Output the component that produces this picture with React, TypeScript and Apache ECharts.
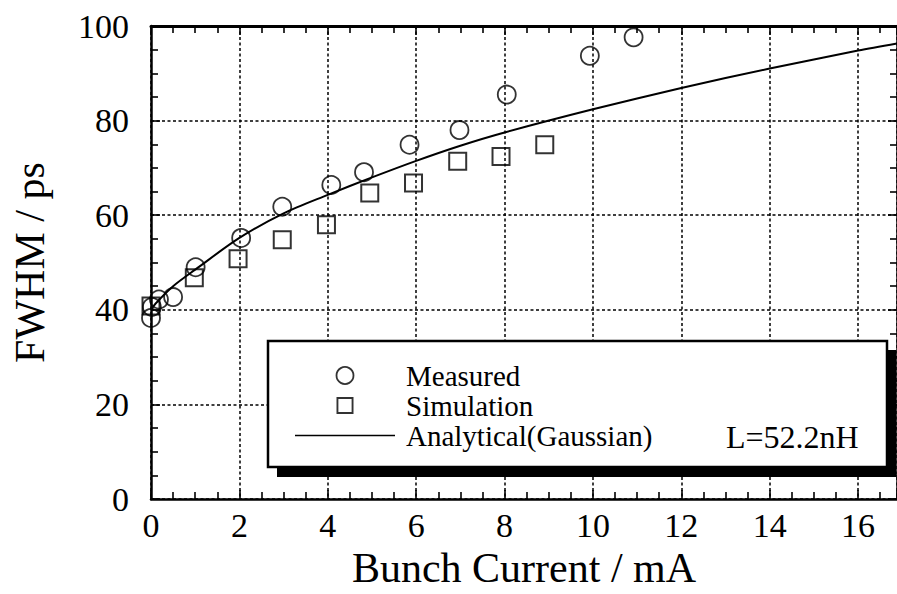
import React, { useEffect, useRef } from "react";
import * as echarts from "echarts";

// Bunch length (FWHM) versus bunch current
const measured: [number, number][] = [
  [0.0, 38.3], [0.02, 40.6], [0.18, 42.2], [0.5, 42.7], [1.01, 49.0],
  [2.04, 55.2], [2.97, 61.8], [4.08, 66.4], [4.82, 69.1], [5.85, 74.9],
  [6.98, 78.0], [8.05, 85.5], [9.93, 93.7], [10.92, 97.6],
];

const simulation: [number, number][] = [
  [0.0, 40.8], [0.98, 46.8], [1.97, 50.8], [2.97, 54.8], [3.97, 58.0],
  [4.95, 64.7], [5.94, 66.8], [6.94, 71.4], [7.92, 72.4], [8.91, 74.9],
];

const analytical: [number, number][] = [
  [0, 40.0], [0.1, 41.3], [0.5, 45.0], [1, 48.5], [2, 55.2], [3, 60.4],
  [4, 64.3], [5, 68.0], [6, 71.5], [7, 74.7], [8, 77.5], [10, 82.4],
  [12, 86.9], [14, 91.0], [16, 94.8], [16.88, 96.3],
];

const seriesNames = ["Measured", "Simulation", "Analytical(Gaussian)"];
const inductanceNote = "L=52.2nH";
const xName = "Bunch Current / mA";
const yName = "FWHM / ps";

const FONT = "'Liberation Serif', 'Times New Roman', serif";

// legend glyphs: hollow square and a plain line segment
const SQUARE_ICON = "path://M1,1L19,1L19,19L1,19Z M3,3L3,17L17,17L17,3Z";
const LINE_ICON = "path://M0,0L100,0L100,1.6L0,1.6Z";

export default function App() {
  const ref = useRef<HTMLDivElement>(null);

  useEffect(() => {
    if (!ref.current) return;
    const chart = echarts.init(ref.current, undefined, { renderer: "svg" });

    const dashed = { show: true, lineStyle: { color: "#000", width: 1.5, type: [3, 2.5] as number[] } };
    const tickStyle = { color: "#000", width: 1.6 };

    const xBase = {
      type: "value" as const,
      min: 0,
      max: 16.88,
      interval: 2,
      minorTick: { show: true, splitNumber: 4, length: 7, lineStyle: tickStyle },
      axisTick: { show: true, inside: true, length: 9, lineStyle: tickStyle },
    };
    const yBase = {
      type: "value" as const,
      min: 0,
      max: 100,
      interval: 20,
      minorTick: { show: true, splitNumber: 4, length: 7, lineStyle: tickStyle },
      axisTick: { show: true, inside: true, length: 9, lineStyle: tickStyle },
    };

    chart.setOption({
      animation: false,
      backgroundColor: "#fff",
      textStyle: { fontFamily: FONT, color: "#000" },
      grid: { left: 151, right: -3, top: 26, bottom: 84, containLabel: false },
      xAxis: [
        {
          ...xBase,
          position: "bottom",
          name: xName,
          nameLocation: "middle",
          nameGap: 42,
          nameTextStyle: { fontFamily: FONT, fontSize: 42, color: "#000" },
          axisLine: { show: true, onZero: false, lineStyle: { color: "#000", width: 2.5 } },
          axisLabel: { fontFamily: FONT, fontSize: 34, color: "#000", margin: 9 },
          splitLine: dashed,
        },
        {
          ...xBase,
          position: "top",
          axisLine: { show: true, onZero: false, lineStyle: { color: "#000", width: 3 } },
          axisLabel: { show: false },
          splitLine: { show: false },
        },
      ],
      yAxis: [
        {
          ...yBase,
          position: "left",
          name: yName,
          nameLocation: "middle",
          nameRotate: 90,
          nameGap: 100,
          nameTextStyle: { fontFamily: FONT, fontSize: 42, color: "#000" },
          axisLine: { show: true, onZero: false, lineStyle: { color: "#000", width: 2.5 } },
          axisLabel: { fontFamily: FONT, fontSize: 34, color: "#000", margin: 22 },
          splitLine: dashed,
        },
        {
          ...yBase,
          position: "right",
          axisLine: { show: true, onZero: false, lineStyle: { color: "#000", width: 2.5 } },
          axisLabel: { show: false },
          splitLine: { show: false },
        },
      ],
      legend: {
        orient: "vertical",
        left: 295,
        top: 361,
        padding: 0,
        itemGap: 1,
        itemWidth: 100,
        itemHeight: 17,
        z: 20,
        selectedMode: false,
        textStyle: {
          fontFamily: FONT,
          fontSize: 29,
          color: "#000",
          lineHeight: 29,
          padding: [0, 0, 0, 6],
        },
        data: [
          { name: seriesNames[0], icon: "circle", itemStyle: { color: "rgba(0,0,0,0)", borderColor: "#000", borderWidth: 1.8 } },
          { name: seriesNames[1], icon: SQUARE_ICON, itemStyle: { color: "#000", borderWidth: 0 } },
          { name: seriesNames[2], icon: LINE_ICON, itemStyle: { color: "#000", borderWidth: 0 } },
        ],
      },
      graphic: [
        // legend frame with its solid drop shadow
        {
          type: "rect",
          z: 10,
          shape: { x: 277, y: 350, width: 619, height: 127 },
          style: { fill: "#000" },
        },
        {
          type: "rect",
          z: 11,
          shape: { x: 268, y: 341, width: 619, height: 126 },
          style: { fill: "#fff", stroke: "#000", lineWidth: 2.5 },
        },
        {
          type: "text",
          z: 21,
          x: 726,
          y: 437,
          style: {
            text: inductanceNote,
            font: `32px ${FONT}`,
            fill: "#000",
            verticalAlign: "middle",
            align: "left",
          },
        },
      ],
      series: [
        {
          name: seriesNames[0],
          type: "scatter",
          data: measured,
          symbol: "circle",
          symbolSize: 18,
          itemStyle: { color: "rgba(0,0,0,0)", borderColor: "#000", borderWidth: 1.8 },
          z: 3,
        },
        {
          name: seriesNames[1],
          type: "scatter",
          data: simulation,
          symbol: "rect",
          symbolSize: 17,
          itemStyle: { color: "rgba(0,0,0,0)", borderColor: "#000", borderWidth: 2 },
          z: 3,
        },
        {
          name: seriesNames[2],
          type: "line",
          data: analytical,
          smooth: 0.3,
          showSymbol: false,
          symbol: "none",
          lineStyle: { color: "#000", width: 2 },
          itemStyle: { color: "#000" },
          z: 2,
        },
      ],
    });

    return () => chart.dispose();
  }, []);

  return (
    <div
      ref={ref}
      style={{ position: "fixed", left: 0, top: 0, width: 897, height: 594 }}
    />
  );
}
